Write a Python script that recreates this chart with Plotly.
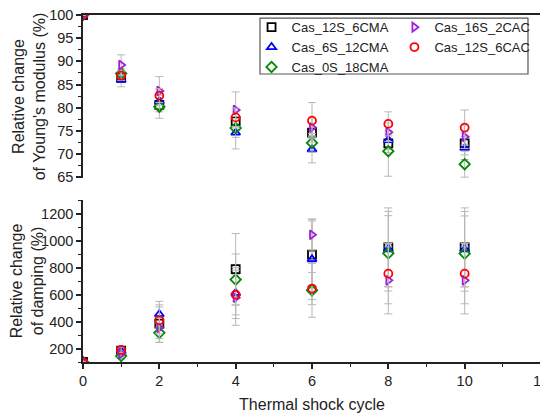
import plotly.graph_objects as go

cycles = [0, 1, 2, 4, 6, 8, 10]

# Relative change of Young's modulus (%)
ym_12S_6CMA = [100, 86.5, 80.6, 77.1, 74.6, 72.3, 72.3]
ym_6S_12CMA = [100, 86.0, 81.4, 74.6, 71.0, 73.0, 71.3]
ym_0S_18CMA = [100, 87.4, 80.2, 75.6, 72.4, 70.6, 67.8]
ym_16S_2CAC = [100, 89.2, 83.6, 79.5, 75.7, 74.7, 73.7]
ym_12S_6CAC = [100, 86.9, 82.6, 77.9, 77.2, 76.5, 75.7]

ym_err_12S_6CMA = [0, 1.0, 1.5, 2.0, 2.0, 2.0, 2.5]
ym_err_6S_12CMA = [0, 1.5, 1.5, 3.5, 2.9, 2.0, 2.5]
ym_err_0S_18CMA = [0, 1.0, 2.5, 2.0, 2.0, 5.4, 2.8]
ym_err_16S_2CAC = [0, 2.2, 3.1, 3.9, 2.0, 2.0, 2.5]
ym_err_12S_6CAC = [0, 1.0, 1.5, 2.0, 3.9, 2.6, 3.8]

# Relative change of damping (%)
dp_12S_6CMA = [100, 185, 385, 790, 899, 952, 952]
dp_6S_12CMA = [100, 180, 455, 613, 864, 940, 940]
dp_0S_18CMA = [100, 145, 317, 713, 633, 908, 906]
dp_16S_2CAC = [100, 160, 354, 578, 1046, 707, 707]
dp_12S_6CAC = [100, 190, 410, 601, 646, 757, 757]

dp_err_12S_6CMA = [0, 20, 140, 265, 250, 294, 294]
dp_err_6S_12CMA = [0, 20, 96, 190, 300, 280, 280]
dp_err_0S_18CMA = [0, 20, 70, 190, 200, 280, 280]
dp_err_16S_2CAC = [0, 20, 80, 205, 114, 249, 249]
dp_err_12S_6CAC = [0, 20, 100, 150, 120, 224, 224]

styles = {
    "Cas_12S_6CMA": dict(symbol="square-open", color="#000000", legend="legend",
                         ym=ym_12S_6CMA, yme=ym_err_12S_6CMA, dp=dp_12S_6CMA, dpe=dp_err_12S_6CMA),
    "Cas_6S_12CMA": dict(symbol="triangle-up-open", color="#0000ff", legend="legend",
                         ym=ym_6S_12CMA, yme=ym_err_6S_12CMA, dp=dp_6S_12CMA, dpe=dp_err_6S_12CMA),
    "Cas_0S_18CMA": dict(symbol="diamond-open", color="#008a00", legend="legend",
                         ym=ym_0S_18CMA, yme=ym_err_0S_18CMA, dp=dp_0S_18CMA, dpe=dp_err_0S_18CMA),
    "Cas_16S_2CAC": dict(symbol="triangle-right-open", color="#a020d8", legend="legend2",
                         ym=ym_16S_2CAC, yme=ym_err_16S_2CAC, dp=dp_16S_2CAC, dpe=dp_err_16S_2CAC),
    "Cas_12S_6CAC": dict(symbol="circle-open", color="#ff0000", legend="legend2",
                         ym=ym_12S_6CAC, yme=ym_err_12S_6CAC, dp=dp_12S_6CAC, dpe=dp_err_12S_6CAC),
}

order = ["Cas_12S_6CMA", "Cas_6S_12CMA", "Cas_0S_18CMA", "Cas_16S_2CAC", "Cas_12S_6CAC"]

fig = go.Figure()
err_color = "#b8b8b8"
for name in order:
    s = styles[name]
    mk = dict(symbol=s["symbol"], color=s["color"], size=8, line=dict(width=1.8, color=s["color"]))
    fig.add_trace(go.Scatter(
        x=cycles, y=s["ym"], mode="markers", name=name, marker=mk,
        error_y=dict(type="data", array=s["yme"], color=err_color, thickness=1, width=4),
        xaxis="x", yaxis="y", legend=s["legend"], showlegend=True))
    fig.add_trace(go.Scatter(
        x=cycles, y=s["dp"], mode="markers", name=name, marker=mk,
        error_y=dict(type="data", array=s["dpe"], color=err_color, thickness=1, width=4),
        xaxis="x2", yaxis="y2", legend=s["legend"], showlegend=False))

font_family = "Arial, 'Liberation Sans', sans-serif"
axis_color = "#222222"
tick_font = dict(family=font_family, size=14.5, color="#222222")
title_font = dict(family=font_family, size=16, color="#222222")

# page body has an 8px margin: size the figure so the plot lands where the reference has it
fig.update_layout(
    width=540, height=406,
    margin=dict(l=75, r=7, t=7, b=52, autoexpand=False),
    paper_bgcolor="white", plot_bgcolor="white",
    font=dict(family=font_family, color="#222222"),
    xaxis=dict(domain=[0, 1], anchor="y", range=[0, 12], side="top", automargin=False,
               showline=True, linecolor=axis_color, linewidth=1.5,
               showticklabels=False, ticks="", showgrid=False, zeroline=False),
    yaxis=dict(domain=[0.530, 1.0], anchor="x", range=[64.8, 100], automargin=False,
               tickmode="linear", tick0=65, dtick=5, ticklabeloverflow="allow",
               showline=True, linecolor=axis_color, linewidth=1.5,
               ticks="outside", ticklen=5, tickwidth=1.5, tickcolor=axis_color,
               minor=dict(dtick=2.5, ticks="outside", ticklen=3, tickwidth=1.2, tickcolor=axis_color, showgrid=False),
               tickfont=tick_font, showgrid=False, zeroline=False,
               title=dict(text="Relative change<br>of Young's modulus (%)", font=title_font, standoff=0)),
    xaxis2=dict(domain=[0, 1], anchor="y2", range=[0, 12], automargin=False,
                tickmode="linear", tick0=0, dtick=2, ticklabeloverflow="allow",
                showline=True, linecolor=axis_color, linewidth=1.5,
                ticks="outside", ticklen=5, tickwidth=1.5, tickcolor=axis_color,
                minor=dict(dtick=1, ticks="outside", ticklen=3, tickwidth=1.2, tickcolor=axis_color, showgrid=False),
                tickfont=tick_font, showgrid=False, zeroline=False,
                title=dict(text="Thermal shock cycle", font=title_font, standoff=11)),
    yaxis2=dict(domain=[0, 0.467], anchor="x2", range=[100, 1305], automargin=False,
                tickmode="linear", tick0=0, dtick=200, ticklabeloverflow="allow",
                showline=True, linecolor=axis_color, linewidth=1.5,
                ticks="outside", ticklen=5, tickwidth=1.5, tickcolor=axis_color,
                minor=dict(dtick=100, ticks="outside", ticklen=3, tickwidth=1.2, tickcolor=axis_color, showgrid=False),
                tickfont=tick_font, showgrid=False, zeroline=False,
                title=dict(text="Relative change<br>of damping (%)", font=title_font, standoff=0)),
    legend=dict(x=0.368, y=1.008, xanchor="left", yanchor="top",
                bgcolor="rgba(0,0,0,0)", borderwidth=0, tracegroupgap=0,
                font=dict(family=font_family, size=13, color="#222222"), itemwidth=30),
    legend2=dict(x=0.680, y=1.008, xanchor="left", yanchor="top",
                 bgcolor="rgba(0,0,0,0)", borderwidth=0, tracegroupgap=0,
                 font=dict(family=font_family, size=13, color="#222222"), itemwidth=30),
    shapes=[
        dict(type="rect", xref="paper", yref="paper", x0=0.3865, x1=0.9716, y0=0.830, y1=0.991,
             line=dict(color="#555555", width=1.2), fillcolor="rgba(0,0,0,0)", layer="below"),
        dict(type="line", xref="paper", yref="paper", x0=1, x1=1, y0=0, y1=1,
             line=dict(color=axis_color, width=1.5)),
    ],
)

fig.write_html("out.html")
